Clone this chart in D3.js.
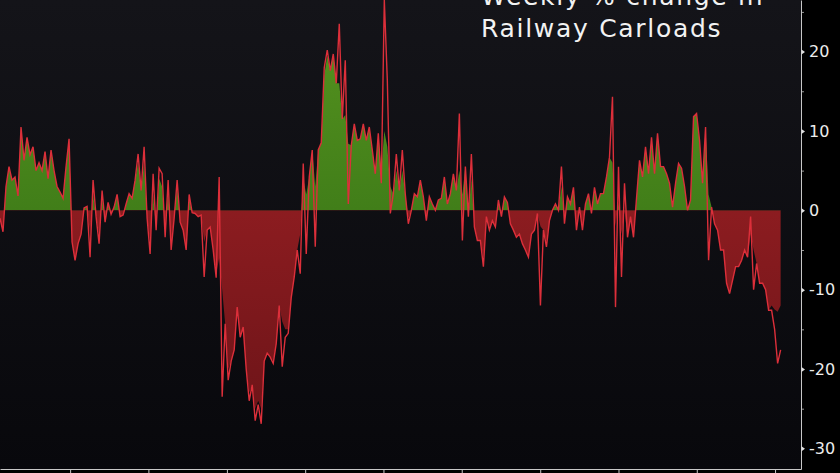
<!DOCTYPE html>
<html>
<head>
<meta charset="utf-8">
<script src="https://cdn.jsdelivr.net/npm/d3@7/dist/d3.min.js"></script>
<style>
  html, body { margin: 0; padding: 0; background: #000; }
  svg { display: block; }
</style>
</head>
<body>
<svg id="chart" width="840" height="473"></svg>
<script>
// ---------------- DATA ----------------
const titleLines = ["Weekly % change in", "Railway Carloads"];
const startDate = "2006-02-08";
const endDate = "2016-05-01";
const stepDays = 14;

const lineValues = [
  -1, -2.7, 3.0, 5.5, 3.8, 4.2, 1.8, 10.5, 6.3, 9.2,
  7.0, 8.0, 5.0, 6.0, 5.0, 7.4, 4.0, 7.6, 5.0, 3.0,
  2.3, 1.5, 5.5, 9.0, -4.0, -6.3, -4.2, -3.0, 0.3, 0.5,
  -5.9, 3.8, -0.8, -4.2, 2.5, -1.5, 1.0, -0.5, 0.4, 2.0,
  -0.8, -0.6, 0.8, 2.1, 1.5, 3.8, 7.1, 2.5, 8.0, -1.0,
  -5.5, 4.6, -2.5, 5.3, 4.6, -3.4, 3.8, -5.0, -1.0, 3.8,
  -1.5, -2.5, -5.0, 2.0, -0.3, -0.4, -0.8, -0.6, -8.4, -2.5,
  -2.1, -5.0, -8.5, 4.2, -23.5, -14.3, -21.4, -19, -17.6, -12.2,
  -16, -14.7, -20, -24, -22, -26.5, -24.5, -26.9, -19, -18,
  -18.5, -19.3, -16.8, -12, -19.7, -16, -15.5, -11, -8.4, -5,
  -8, 5.9, -5.5, 4.2, 7.6, -4.6, 7.6, 8.5, 18, 20.2,
  17.6, 19.7, 16, 23.5, 11.5, 18.9, 0.8, 8.2, 10.9, 8.8,
  9, 10.9, 8.8, 10.5, 7.6, 4.6, 9.7, 3.4, 26.5, 16.4,
  -0.4, 2.1, 7.1, 2.5, 7.6, 2.0, -1.7, 0, 2.1, 1.7,
  3.8, 1.7, -1.3, 1.7, 0.8, 0, 1.3, 1.5, 4.2, 0.8,
  2.1, 4.6, 2.5, 12.2, -3.8, 5.5, -0.8, 7.1, -2.1, -3.8,
  -3.8, -7.1, -0.8, -2.5, -1.3, -2.1, 1.3, -0.8, 1.7, 1.0,
  -1.7, -2.5, -3.4, -3, -4.2, -5, -5.9, -3, -2.5, -0.4,
  -12, -2.5, -4.6, -1.3, 0, 0.8, 0, 5.5, -1.7, 1.7,
  0.8, 2.9, -2.5, 0.4, -2.5, 0.8, 2.1, -0.4, 2.9, 0.8,
  2.1, 2.1, 4.2, 6.7, 14.3, -12.2, 5.5, -8.4, 3.4, -3.4,
  -0.8, -3.4, 1.5, 6.3, 4.2, 8.0, 4.6, 9.2, 4.6, 9.7,
  5.5, 5.5, 4.6, 3.4, 0.4, 3.4, 5.9, 5.3, 3.0, 0,
  1.3, 11.8, 12.2, 8.8, 3.4, 10.5, -6.3, 0.4, -1.7, -2.5,
  -5, -5, -9.2, -10.5, -8.8, -7.1, -7.1, -6.3, -5.0, -5.9,
  -0.8, -10, -6.7, -9.2, -9.2, -10, -12.6, -12.6, -15, -19.3,
  -17.6
];

// Shaded area under the line (isolated spikes are not shaded)
const fillValues = [
  -1, -2.7, 3.0, 5.5, 3.8, 4.2, 1.8, 10.5, 6.3, 9.2,
  7.0, 8.0, 5.0, 6.0, 5.0, 7.4, 4.0, 7.6, 5.0, 3.0,
  2.3, 1.5, 5.5, 9.0, -4.0, -6.3, -4.2, -3.0, 0.3, 0.5,
  -3, 2, -0.8, -3, 1.5, -1.5, 1.0, -0.5, 0.4, 2.0,
  -0.8, -0.6, 0.8, 2.1, 1.5, 3.8, 6, 2.5, 6, -1.0,
  -4, 2, -2.5, 4, 3, -2.5, 2.5, -4, -1.0, 3,
  -1.5, -2.5, -5.0, 1.5, -0.3, -0.4, -0.8, -0.6, -4, -2.5,
  -2.1, -5.0, -8, -6, -10, -14.3, -20, -19, -17.6, -12.2,
  -16, -14.7, -20, -23, -22, -25, -24, -25, -19, -18,
  -18.5, -19, -16.8, -12, -14, -15, -15, -11, -8.4, -5,
  -3, 4, 2, 4.2, 7.6, 3, 7.6, 8.5, 17, 19.5,
  17.6, 19.7, 16, 16, 11.5, 12, 8.4, 8.2, 10.9, 8.8,
  9, 10.9, 8.8, 10.5, 7.6, 4.6, 9.7, 5, 10, 8,
  3, 2.1, 5, 2.5, 5, 2.0, -1, 0, 2.1, 1.7,
  3.8, 1.7, -1, 1.7, 0.8, 0, 1.3, 1.5, 4.2, 0.8,
  2.1, 4.6, 2.5, 5, 2, 5.5, -0.5, 4, -2.1, -3.8,
  -3.8, -6, -0.8, -2.5, -1.3, -2.1, 1.3, -0.8, 1.7, 1.0,
  -1.7, -2.5, -3.4, -3, -4.2, -5, -5.9, -3, -2.5, -0.4,
  -2, -2.5, -4, -1.3, 0, 0.8, 0, 3, -1, 1.7,
  0.8, 2.9, -2, 0.4, -2, 0.8, 2.1, -0.4, 2.9, 0.8,
  2.1, 2.1, 4.2, 6.7, 6, -2, 1, -3, 0, -3.4,
  -0.8, -3.4, 1.5, 6.3, 4.2, 8.0, 4.6, 9.2, 4.6, 9.7,
  5.5, 5.5, 4.6, 3.4, 0.4, 3.4, 5.9, 5.3, 3.0, 0,
  1.3, 11.8, 12.2, 8.8, 3.4, 10.5, 2, 0.4, -1.7, -2.5,
  -5, -5, -9.2, -10.5, -8.8, -7.1, -7.1, -6.3, -5.0, -5.9,
  -3, -5, -6.7, -9.2, -9.2, -10, -12.6, -12, -12.5, -12.8,
  -12
];

const yMajorTicks = [-30, -20, -10, 0, 10, 20];
const yMinorTicks = [-25, -15, -5, 5, 15, 25];
const yDomain = [-32.6, 26.5];

// ---------------- LAYOUT ----------------
const W = 840, H = 473;
const plotRight = 801, plotBottom = 469;

const svg = d3.select("#chart");
const parse = d3.timeParse("%Y-%m-%d");
const t0 = parse(startDate);

const lineData = lineValues.map((v, i) => ({ date: d3.timeDay.offset(t0, i * stepDays), v }));
const fillData = fillValues.map((v, i) => ({ date: d3.timeDay.offset(t0, i * stepDays), v }));

const x = d3.scaleTime().domain([t0, parse(endDate)]).range([0, plotRight]);
const y = d3.scaleLinear().domain(yDomain).range([plotBottom, 0]);

const defs = svg.append("defs");
const bg = defs.append("linearGradient").attr("id", "bg").attr("x1", 0).attr("y1", 0).attr("x2", 0).attr("y2", 1);
bg.append("stop").attr("offset", "0%").attr("stop-color", "#141419");
bg.append("stop").attr("offset", "100%").attr("stop-color", "#08080c");

const gGreen = defs.append("linearGradient").attr("id", "gGreen").attr("gradientUnits", "userSpaceOnUse")
  .attr("x1", 0).attr("y1", y(25)).attr("x2", 0).attr("y2", y(0));
gGreen.append("stop").attr("offset", "0%").attr("stop-color", "#56931f");
gGreen.append("stop").attr("offset", "100%").attr("stop-color", "#417e19");

const gRed = defs.append("linearGradient").attr("id", "gRed").attr("gradientUnits", "userSpaceOnUse")
  .attr("x1", 0).attr("y1", y(0)).attr("x2", 0).attr("y2", y(-27));
gRed.append("stop").attr("offset", "0%").attr("stop-color", "#8c1c20");
gRed.append("stop").attr("offset", "100%").attr("stop-color", "#6c1418");

defs.append("clipPath").attr("id", "clipAbove").append("rect")
  .attr("x", 0).attr("y", 0).attr("width", plotRight).attr("height", y(0));
defs.append("clipPath").attr("id", "clipBelow").append("rect")
  .attr("x", 0).attr("y", y(0)).attr("width", plotRight).attr("height", plotBottom - y(0));
defs.append("clipPath").attr("id", "clipPlot").append("rect")
  .attr("x", 0).attr("y", 0).attr("width", plotRight).attr("height", plotBottom);

// background
svg.append("rect").attr("width", W).attr("height", H).attr("fill", "#000");
svg.append("rect").attr("x", 0).attr("y", 0).attr("width", plotRight).attr("height", plotBottom).attr("fill", "url(#bg)");

// areas
const area = d3.area().x(d => x(d.date)).y0(y(0)).y1(d => y(d.v));
svg.append("path").datum(fillData).attr("d", area).attr("fill", "url(#gGreen)").attr("clip-path", "url(#clipAbove)");
svg.append("path").datum(fillData).attr("d", area).attr("fill", "url(#gRed)").attr("clip-path", "url(#clipBelow)");

// line
const line = d3.line().x(d => x(d.date)).y(d => y(d.v));
svg.append("path").datum(lineData).attr("d", line)
  .attr("fill", "none").attr("stroke", "#dc2f3a").attr("stroke-width", 1.4)
  .attr("stroke-linejoin", "miter").attr("clip-path", "url(#clipPlot)");

// title (partly above the top edge, as in the original)
const title = svg.append("text").attr("x", 481).attr("fill", "#f2f2f2")
  .attr("font-family", "DejaVu Sans, sans-serif").attr("font-size", 25)
  .attr("letter-spacing", 1.7);
titleLines.forEach((t, i) => {
  title.append("tspan").attr("x", 481).attr("y", 5 + i * 32).text(t);
});

// bottom axis
const xAxis = d3.axisBottom(x).ticks(d3.timeYear.every(1)).tickSize(5).tickSizeOuter(0).tickFormat("");
const gx = svg.append("g").attr("transform", `translate(0,${plotBottom})`).call(xAxis);
gx.select(".domain").attr("stroke", "#c8c8c8");
gx.selectAll(".tick line").attr("stroke", "#c8c8c8");

// right axis: minor ticks
const yMinor = d3.axisRight(y).tickValues(yMinorTicks).tickSize(3).tickSizeOuter(0).tickFormat("");
const gyMinor = svg.append("g").attr("transform", `translate(${plotRight},0)`).call(yMinor);
gyMinor.select(".domain").remove();
gyMinor.selectAll(".tick line").attr("stroke", "#9a9a9a");

// right axis: major ticks with triangular markers
const yAxis = d3.axisRight(y).tickValues(yMajorTicks).tickSize(0).tickSizeOuter(0).tickPadding(8)
  .tickFormat(d => d < 0 ? "-" + Math.abs(d) : String(d));
const gy = svg.append("g").attr("transform", `translate(${plotRight},0)`).call(yAxis);
gy.select(".domain").attr("stroke", "#c8c8c8");
gy.selectAll(".tick text").attr("fill", "#ececec")
  .attr("font-family", "DejaVu Sans, sans-serif").attr("font-size", 16);
gy.selectAll(".tick").append("path").attr("d", "M0.5,-2.5L4,0L0.5,2.5Z").attr("fill", "#e0e0e0");
</script>
</body>
</html>
